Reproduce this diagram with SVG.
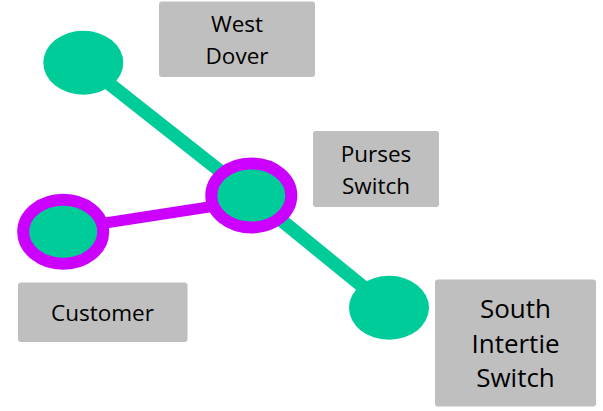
<svg xmlns="http://www.w3.org/2000/svg" width="603" height="411" viewBox="0 0 603 411">
  <style>
    .box { fill: #BFBFBF; }
    .lbl { font-family: "Open Sans", "Noto Sans", sans-serif; font-size: 22.5px; fill: #000; text-anchor: middle; }
    .lbl-lg { font-size: 26px; }
    .node { fill: #00CC99; }
    .ring { stroke: #CC00FF; stroke-width: 12; }
    .link-g { stroke: #00CC99; stroke-width: 13.5; fill: none; }
    .link-p { stroke: #CC00FF; stroke-width: 11; fill: none; }
  </style>

  <!-- connectors -->
  <g id="connectors">
    <line class="link-g" x1="83" y1="63" x2="251" y2="195.5"/>
    <line class="link-g" x1="251" y1="195.5" x2="389" y2="308"/>
    <line class="link-p" x1="63" y1="229.5" x2="251" y2="200.5"/>
  </g>

  <!-- nodes -->
  <g id="west-dover">
    <ellipse class="node" cx="83.3" cy="62.7" rx="40" ry="32"/>
    <rect class="box" x="159" y="1.5" width="156" height="75.5" rx="3"/>
    <text class="lbl" x="237" y="31.7">West</text>
    <text class="lbl" x="237" y="64">Dover</text>
  </g>

  <g id="purses-switch">
    <ellipse class="node ring" cx="251.3" cy="195.5" rx="40" ry="32"/>
    <rect class="box" x="313" y="131" width="126" height="76" rx="3"/>
    <text class="lbl" x="376" y="162.3">Purses</text>
    <text class="lbl" x="376" y="194">Switch</text>
  </g>

  <g id="customer">
    <ellipse class="node ring" cx="63.2" cy="231.7" rx="40" ry="32"/>
    <rect class="box" x="18" y="282.5" width="169.5" height="59.5" rx="3"/>
    <text class="lbl" x="102.5" y="320.7">Customer</text>
  </g>

  <g id="south-intertie-switch">
    <ellipse class="node" cx="389" cy="307.8" rx="40" ry="32"/>
    <rect class="box" x="435" y="279.5" width="161" height="127" rx="3"/>
    <text class="lbl lbl-lg" x="515.5" y="318.3">South</text>
    <text class="lbl lbl-lg" x="515.5" y="352.5">Intertie</text>
    <text class="lbl lbl-lg" x="515.5" y="386.7">Switch</text>
  </g>
</svg>
